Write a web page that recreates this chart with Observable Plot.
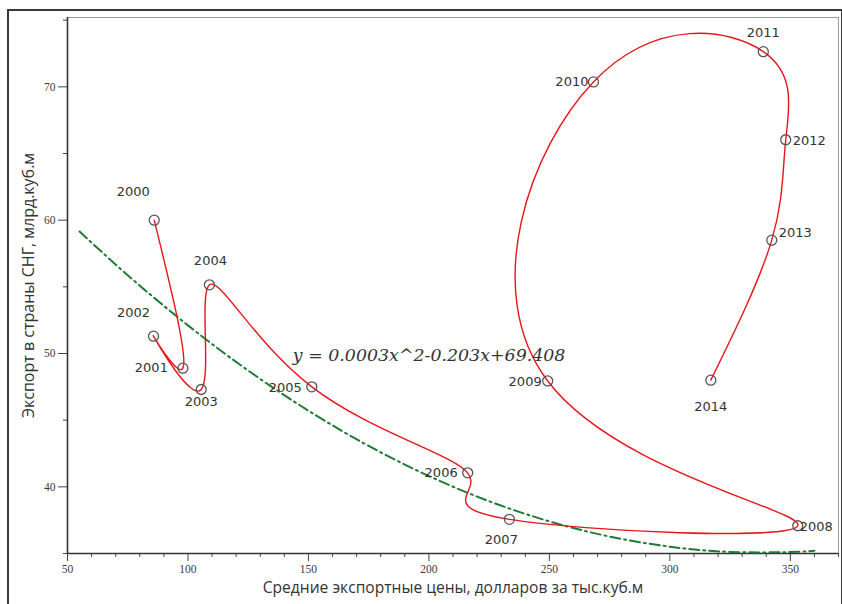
<!DOCTYPE html>
<html>
<head>
<meta charset="utf-8">
<script src="https://cdn.jsdelivr.net/npm/d3@7"></script>
<script src="https://cdn.jsdelivr.net/npm/@observablehq/plot@0.6"></script>
<style>
  html, body { margin: 0; padding: 0; background: #fff; }
  #wrap { position: relative; width: 842px; height: 604px; overflow: hidden; }
  #border { position: absolute; left: 7px; top: 9px; width: 832px; height: 620px;
            border-top: 2px solid #3a3a3a; border-left: 2px solid #3a3a3a; border-right: 2px solid #3a3a3a; }
  #chart { position: absolute; left: 0; top: 0; }
</style>
</head>
<body>
<div id="wrap"><div id="border"></div><div id="chart"></div></div>
<script>
// ---- data ----
const years   = [2000, 2001, 2002, 2003, 2004, 2005, 2006, 2007, 2008, 2009, 2010, 2011, 2012, 2013, 2014];
const prices  = [86.0, 97.9, 85.7, 105.5, 108.9, 151.4, 216.1, 233.4, 353.1, 249.3, 268.3, 338.8, 348.1, 342.3, 317.0];
const exportsCIS = [60.0, 48.9, 51.3, 47.3, 55.15, 47.5, 41.05, 37.56, 37.08, 47.94, 70.37, 72.64, 66.03, 58.5, 48.0];

// quadratic trend curve (green dash-dot)
const trendX = [55, 75, 100, 125, 150, 175, 200, 225, 250, 275, 300, 325, 350, 360];
const trendY = [59.15, 55.87, 52.11, 48.72, 45.71, 43.07, 40.81, 38.92, 37.41, 36.27, 35.51, 35.12, 35.11, 35.21];
const equationText = "y = 0.0003x^2-0.203x+69.408";
const equationAt = [143.5, 49.83];

const xTicksMajor = [50, 100, 150, 200, 250, 300, 350];
const xTicksMinor = [60, 70, 80, 90, 110, 120, 130, 140, 160, 170, 180, 190, 210, 220, 230, 240, 260, 270, 280, 290, 310, 320, 330, 340, 360, 370];
const yTicksMajor = [40, 50, 60, 70];
const yTicksMinor = [35, 45, 55, 65, 75];
const xLabel = "Средние экспортные цены, долларов за тыс.куб.м";
const yLabel = "Экспорт в страны СНГ, млрд.куб.м";

// ---- label placement (styling only) ----
const place = {
  2000: {dx: -21, dy: -28, a: "middle"},
  2001: {dx: -15, dy: 0,   a: "end"},
  2002: {dx: -20, dy: -23, a: "middle"},
  2003: {dx: 0,   dy: 12,  a: "middle"},
  2004: {dx: 1,   dy: -24, a: "middle"},
  2005: {dx: -10, dy: 1,   a: "end"},
  2006: {dx: -10, dy: 0,   a: "end"},
  2007: {dx: -8,  dy: 20,  a: "middle"},
  2008: {dx: 2,   dy: 1,   a: "start"},
  2009: {dx: -6,  dy: 1,   a: "end"},
  2010: {dx: -5,  dy: 0,   a: "end"},
  2011: {dx: 0,   dy: -19, a: "middle"},
  2012: {dx: 7,   dy: 1,   a: "start"},
  2013: {dx: 7,   dy: -7,  a: "start"},
  2014: {dx: 0,   dy: 27,  a: "middle"}
};

const pts = years.map((yr, i) => ({year: yr, x: prices[i], y: exportsCIS[i]}));
const trend = trendX.map((x, i) => ({x, y: trendY[i]}));

// one text mark per point so that each label gets its own offset
const pointLabels = pts.map(d => Plot.text([d], {
  x: "x", y: "y", text: d => String(d.year),
  dx: place[d.year].dx, dy: place[d.year].dy, textAnchor: place[d.year].a,
  fill: "#333", fontSize: 13, fontFamily: "DejaVu Sans", letterSpacing: 1
}));

const chart = Plot.plot({
  width: 842, height: 604,
  marginLeft: 67, marginRight: 4, marginTop: 17, marginBottom: 51,
  style: {background: "transparent", fontFamily: "Liberation Serif"},
  x: {domain: [50, 370]},
  y: {domain: [35, 75.2]},
  marks: [
    Plot.frame({stroke: "#9a9a9a", strokeWidth: 1}),
    Plot.axisX(xTicksMinor, {tickSize: 4, fill: "none", stroke: "#444", label: null}),
    Plot.axisX(xTicksMajor, {tickSize: 8, tickPadding: 3, fontSize: 11.5, fill: "#3a3a3a", stroke: "#444", label: null}),
    Plot.axisY(yTicksMinor, {tickSize: 4, fill: "none", stroke: "#444", label: null}),
    Plot.axisY(yTicksMajor, {tickSize: 9, tickPadding: 3, fontSize: 11.5, fill: "#3a3a3a", stroke: "#444", label: null}),
    Plot.ruleY([35], {stroke: "#333", strokeWidth: 1.6}),
    Plot.ruleX([50], {stroke: "#333", strokeWidth: 1.6}),
    Plot.text([xLabel], {frameAnchor: "bottom", dy: 39, fontSize: 15.6, letterSpacing: 0.65, fontFamily: "Open Sans", fill: "#333"}),
    Plot.text([yLabel], {frameAnchor: "left", textAnchor: "middle", dx: -39, rotate: -90, fontSize: 16, fontFamily: "Open Sans", fill: "#333"}),
    Plot.line(trend, {x: "x", y: "y", curve: "natural", stroke: "#1e7b34", strokeWidth: 2, strokeDasharray: "10,4,2,4"}),
    Plot.line(pts, {x: "x", y: "y", curve: "natural", stroke: "#e8141c", strokeWidth: 1.4}),
    Plot.dot(pts, {x: "x", y: "y", r: 5, stroke: "#555", strokeWidth: 1.3, fill: "none"}),
    ...pointLabels,
    Plot.text([equationText], {x: () => equationAt[0], y: () => equationAt[1], textAnchor: "start",
      fontSize: 17.4, fontFamily: "DejaVu Serif", fontStyle: "italic", fill: "#333"})
  ]
});
document.getElementById("chart").appendChild(chart);
</script>
</body>
</html>
